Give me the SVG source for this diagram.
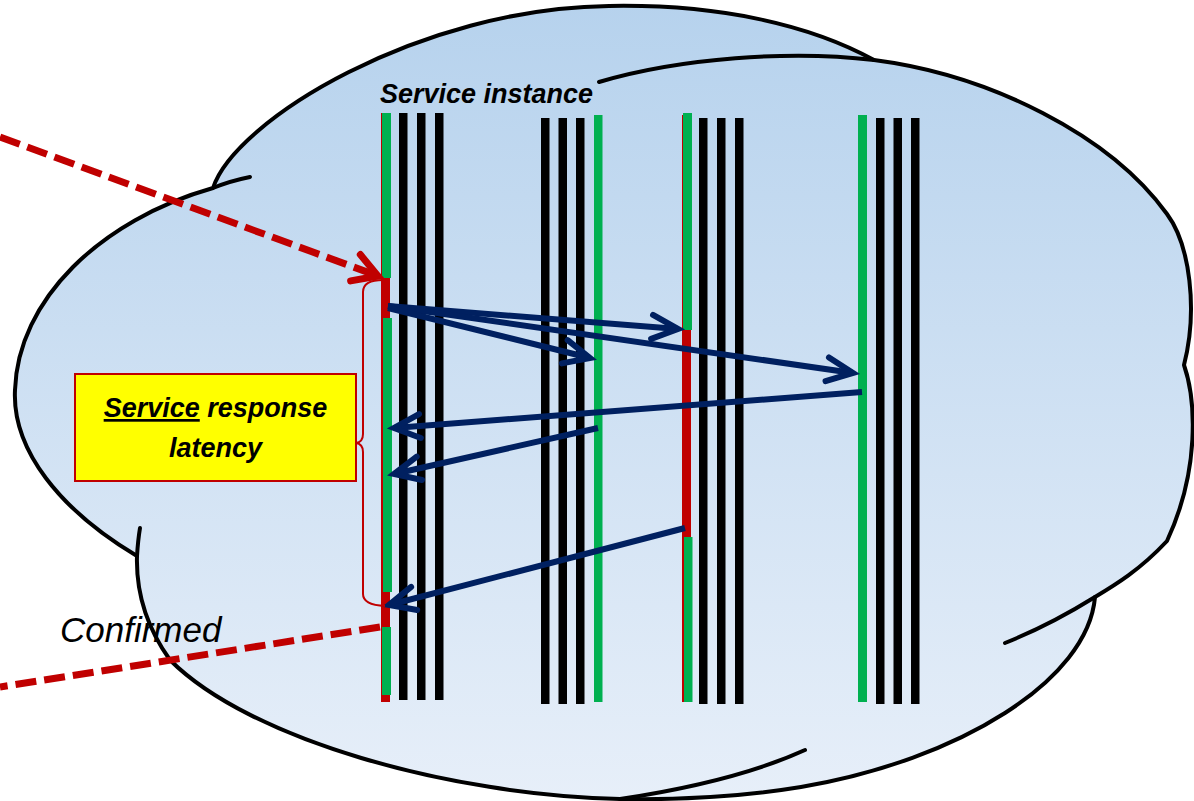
<svg xmlns="http://www.w3.org/2000/svg" width="1194" height="801" viewBox="0 0 1194 801">
  <defs>
    <linearGradient id="cloudFill" x1="0" y1="0" x2="0" y2="801" gradientUnits="userSpaceOnUse">
      <stop offset="0" stop-color="#b6d2ed"/>
      <stop offset="1" stop-color="#e7eff9"/>
    </linearGradient>
    <marker id="navyHead" markerUnits="userSpaceOnUse" markerWidth="40" markerHeight="40" viewBox="-34 -20 40 40" refX="0" refY="0" orient="auto" overflow="visible">
      <path d="M-26,-12 L0,0 L-26,12" fill="none" stroke="#002060" stroke-width="6" stroke-linecap="round" stroke-linejoin="miter"/>
    </marker>
    <marker id="redHead" markerUnits="userSpaceOnUse" markerWidth="40" markerHeight="40" viewBox="-34 -20 40 40" refX="0" refY="0" orient="auto" overflow="visible">
      <path d="M-24,-14 L0,0 L-24,14" fill="none" stroke="#c00000" stroke-width="7" stroke-linecap="round" stroke-linejoin="miter"/>
    </marker>
  </defs>
  <style>
    .cloud { fill: url(#cloudFill); stroke: #000; stroke-width: 4; stroke-linejoin: round; }
    .tip { fill: none; stroke: #000; stroke-width: 4; stroke-linecap: round; }
    .blk { fill: #000; }
    .grn { fill: #00b050; }
    .red { fill: #c00000; }
    .msg { fill: none; stroke: #002060; stroke-width: 6; marker-end: url(#navyHead); }
    .req { fill: none; stroke: #c00000; stroke-width: 7; stroke-dasharray: 21 8; }
    .brace { fill: none; stroke: #c00000; stroke-width: 2; }
    .lbl { font-family: "Liberation Sans", Arial, sans-serif; font-style: italic; fill: #000; }
  </style>

  <!-- cloud background -->
  <g id="cloud">
    <path class="cloud" d="M213,188
      C235,120 420,8 609,6
      C720,4 810,25 874,60
      C990,75 1110,135 1167,214
      C1190,245 1198,310 1184,365
      C1196,400 1200,470 1167,541
      C1140,570 1115,585 1095,597
      C1088,680 960,760 801,787
      C740,797 680,800 620,799
      C450,795 250,740 170,660
      C145,625 136,590 137,556
      C60,510 12,450 15,390
      C18,300 100,220 213,188 Z"/>
    <path class="tip" d="M213,188 Q230,181 250,177"/>
    <path class="tip" d="M874,60 C790,50 680,58 599,82"/>
    <path class="tip" d="M137,556 Q138,540 140,528"/>
    <path class="tip" d="M1095,597 Q1050,625 1005,643"/>
    <path class="tip" d="M620,799 C680,790 750,775 805,750"/>
  </g>

  <!-- service instances -->
  <g id="instance-1">
    <rect class="red" x="381" y="113" width="9" height="589"/>
    <rect class="grn" x="382" y="113" width="9" height="165"/>
    <rect class="grn" x="383" y="318" width="9" height="274"/>
    <rect class="grn" x="382" y="627" width="9" height="68"/>
    <rect class="blk" x="399" y="113" width="8.5" height="587"/>
    <rect class="blk" x="417" y="113" width="8.5" height="587"/>
    <rect class="blk" x="435" y="113" width="8.5" height="587"/>
  </g>
  <g id="instance-2">
    <rect class="blk" x="541" y="118" width="8.5" height="586"/>
    <rect class="blk" x="558.5" y="118" width="8.5" height="586"/>
    <rect class="blk" x="576" y="118" width="8.5" height="586"/>
    <rect class="grn" x="594" y="115" width="8.5" height="587"/>
  </g>
  <g id="instance-3">
    <rect class="red" x="682" y="115" width="9" height="587"/>
    <rect class="grn" x="683" y="113" width="9" height="217"/>
    <rect class="grn" x="684" y="537" width="8.5" height="165"/>
    <rect class="blk" x="699" y="118" width="8.5" height="586"/>
    <rect class="blk" x="717" y="118" width="8.5" height="586"/>
    <rect class="blk" x="735" y="118" width="8.5" height="586"/>
  </g>
  <g id="instance-4">
    <rect class="grn" x="858" y="115" width="9" height="587"/>
    <rect class="blk" x="876" y="118" width="8.5" height="586"/>
    <rect class="blk" x="893.5" y="118" width="8.5" height="586"/>
    <rect class="blk" x="911" y="118" width="8.5" height="586"/>
  </g>

  <text id="title" class="lbl" x="380" y="103" font-size="27" font-weight="bold">Service instance</text>

  <!-- connectors -->
  <g id="connectors">
    <path class="msg" d="M388,306 L678,329"/>
    <path class="msg" d="M388,306 L853,373"/>
    <path class="msg" d="M388,308 L590,358"/>
    <path class="msg" d="M862,392 L394,428"/>
    <path class="msg" d="M598,428 L394,474"/>
    <path class="msg" d="M685,528 L389,605"/>
    <path class="req" d="M0,137 L378,276" marker-end="url(#redHead)"/>
    <path class="req" d="M380,627 L0,687"/>
  </g>

  <!-- latency brace and label -->
  <g id="latency">
    <path class="brace" d="M383,280 Q363,280 363,292 L363,434 Q363,442 356,443 Q363,444 363,452 L363,594 Q363,605 385,606"/>
    <rect x="75" y="374" width="281" height="107" fill="#ffff00" stroke="#c00000" stroke-width="2"/>
    <text class="lbl" x="215.5" y="417" font-size="27" font-weight="bold" text-anchor="middle"><tspan text-decoration="underline">Service</tspan> response</text>
    <text class="lbl" x="215.5" y="457" font-size="27" font-weight="bold" text-anchor="middle">latency</text>
  </g>

  <text id="confirmed" class="lbl" x="60" y="642" font-size="35">Confirmed</text>
</svg>
